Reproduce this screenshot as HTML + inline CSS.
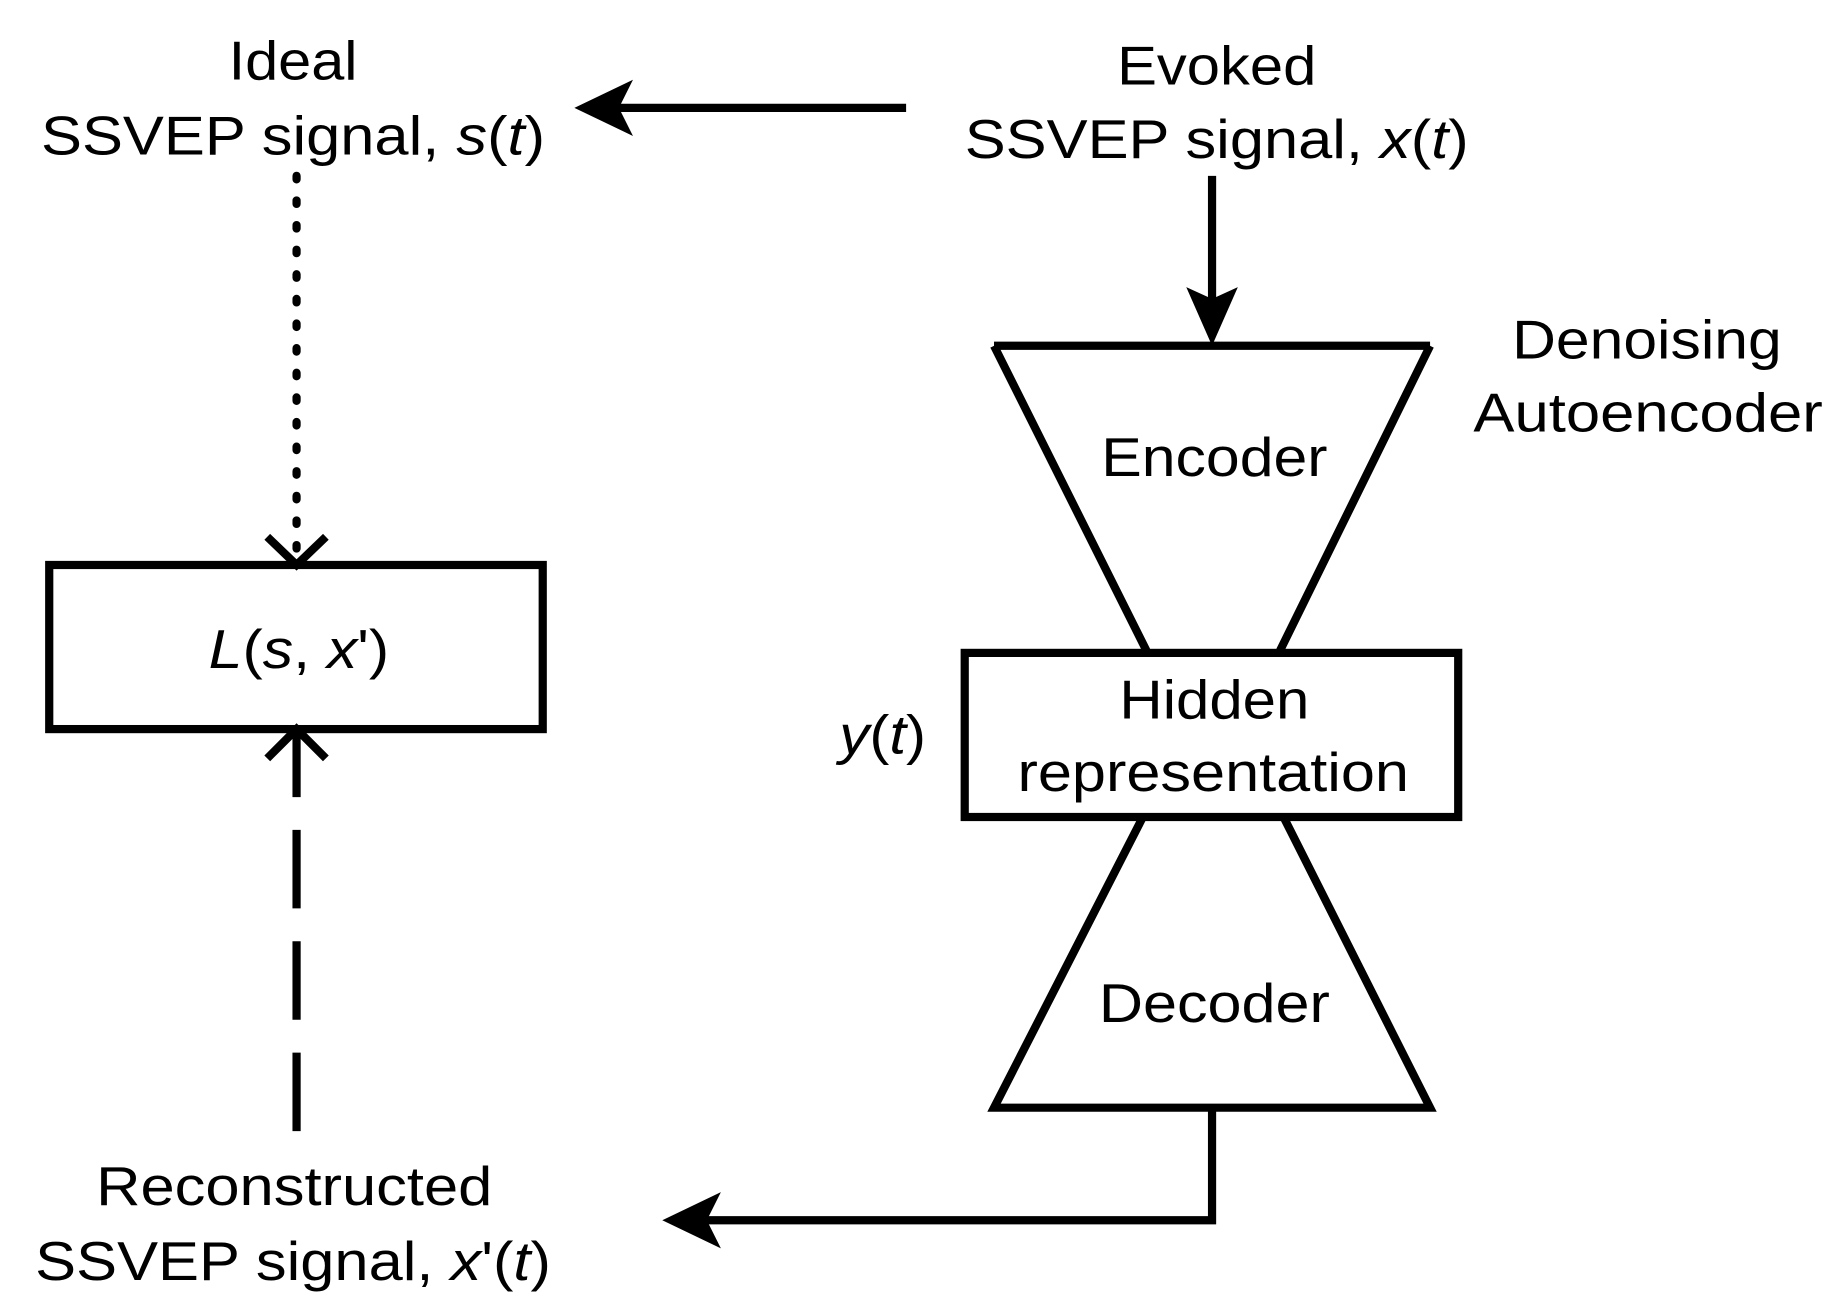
<!DOCTYPE html>
<html><head><meta charset="utf-8"><style>html,body{margin:0;padding:0;background:#fff}svg{display:block}</style></head>
<body>
<svg width="1838" height="1314" viewBox="0 0 1568 1121" preserveAspectRatio="none" xmlns="http://www.w3.org/2000/svg" font-family="Liberation Sans, Arial, sans-serif" font-size="47" fill="#000">
<rect width="1568" height="1121" fill="#fff"/>
<g text-anchor="middle" lengthAdjust="spacingAndGlyphs">
<text x="250" y="68" textLength="110" lengthAdjust="spacingAndGlyphs">Ideal</text>
<text x="250" y="132" textLength="430" lengthAdjust="spacingAndGlyphs">SSVEP signal, <tspan font-style="italic">s</tspan>(<tspan font-style="italic">t</tspan>)</text>
<text x="1038" y="72" textLength="170" lengthAdjust="spacingAndGlyphs">Evoked</text>
<text x="1038" y="135" textLength="430" lengthAdjust="spacingAndGlyphs">SSVEP signal, <tspan font-style="italic">x</tspan>(<tspan font-style="italic">t</tspan>)</text>
<text x="1405" y="306" textLength="230" lengthAdjust="spacingAndGlyphs">Denoising</text>
<text x="1406" y="368" textLength="298" lengthAdjust="spacingAndGlyphs">Autoencoder</text>
<text x="1036" y="406" textLength="193" lengthAdjust="spacingAndGlyphs">Encoder</text>
<text x="1036" y="613" textLength="162" lengthAdjust="spacingAndGlyphs">Hidden</text>
<text x="1035" y="675" textLength="334" lengthAdjust="spacingAndGlyphs">representation</text>
<text x="753" y="643" textLength="74" lengthAdjust="spacingAndGlyphs"><tspan font-style="italic">y</tspan>(<tspan font-style="italic">t</tspan>)</text>
<text x="1036" y="872" textLength="197" lengthAdjust="spacingAndGlyphs">Decoder</text>
<text x="255" y="570" textLength="154" lengthAdjust="spacingAndGlyphs"><tspan font-style="italic">L</tspan>(<tspan font-style="italic">s</tspan>, <tspan font-style="italic">x</tspan>')</text>
<text x="251" y="1028" textLength="338" lengthAdjust="spacingAndGlyphs">Reconstructed</text>
<text x="250" y="1092" textLength="440" lengthAdjust="spacingAndGlyphs">SSVEP signal, <tspan font-style="italic">x</tspan>'(<tspan font-style="italic">t</tspan>)</text>
</g>
<g stroke="#000" stroke-width="7" fill="none">
<line x1="773" y1="92" x2="525" y2="92"/>
<line x1="1034" y1="150" x2="1034" y2="260"/>
<path d="M848,295 L1220,295 M848,295 L978,555 M1220,295 L1092,555"/>
<rect x="823" y="557" width="421" height="140"/>
<path d="M975,697 L848,945 L1220,945 L1095,697"/>
<path d="M1034,945 L1034,1041 L600,1041"/>
<rect x="42" y="482" width="421" height="140"/>
<line x1="253" y1="150" x2="253" y2="470" stroke-dasharray="3 18" stroke-linecap="round"/>
<path d="M228,458 L253,482 L278,458"/>
<path d="M228,647 L253,622 L278,647"/>
<path d="M253,625 V680 M253,708 V775 M253,803 V870 M253,898 V965"/>
</g>
<polygon points="490,92 540,68 528,92 540,116"/>
<polygon points="1034,295 1012,245 1034,255 1056,245"/>
<polygon points="565,1041 615,1017 603,1041 615,1065"/>
</svg>
</body></html>
